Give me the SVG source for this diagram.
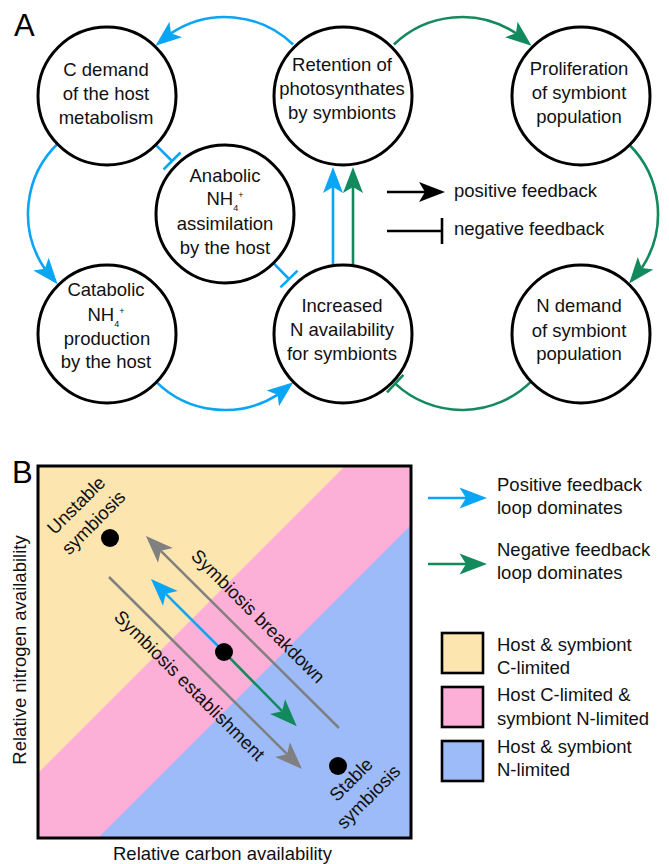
<svg xmlns="http://www.w3.org/2000/svg" width="669" height="864" viewBox="0 0 669 864">
<style>
text{font-family:"Liberation Sans",Arial,Helvetica,sans-serif;font-size:18.5px;fill:#111}
.node circle{fill:#fff;stroke:#000;stroke-width:3}
.node text{text-anchor:middle}
.panel{font-size:31px;fill:#000}
.sm{font-size:9px}
.blue{stroke:#0aa5f5}
.green{stroke:#128a5e}
.gray{stroke:#808080}
.blk{stroke:#000}
</style>
<defs>
<marker id="ahBlue" viewBox="-10 -12 34 24" markerWidth="34" markerHeight="24" refX="0" refY="0" orient="auto" markerUnits="userSpaceOnUse" overflow="visible"><path d="M20,0 L-6,-10 L0,0 L-6,10 Z" fill="#0aa5f5"/></marker>
<marker id="ahGreen" viewBox="-10 -12 34 24" markerWidth="34" markerHeight="24" refX="0" refY="0" orient="auto" markerUnits="userSpaceOnUse" overflow="visible"><path d="M20,0 L-6,-10 L0,0 L-6,10 Z" fill="#128a5e"/></marker>
<marker id="ahBlack" viewBox="-10 -12 34 24" markerWidth="34" markerHeight="24" refX="0" refY="0" orient="auto" markerUnits="userSpaceOnUse" overflow="visible"><path d="M20,0 L-6,-10 L0,0 L-6,10 Z" fill="#000"/></marker>
<marker id="bBlue" viewBox="-10 -12 34 24" markerWidth="34" markerHeight="24" refX="0" refY="0" orient="auto" markerUnits="userSpaceOnUse" overflow="visible"><path d="M21,0 L-6.5,-10.5 L0,0 L-6.5,10.5 Z" fill="#0aa5f5"/></marker>
<marker id="bGreen" viewBox="-10 -12 34 24" markerWidth="34" markerHeight="24" refX="0" refY="0" orient="auto" markerUnits="userSpaceOnUse" overflow="visible"><path d="M21,0 L-6.5,-10.5 L0,0 L-6.5,10.5 Z" fill="#128a5e"/></marker>
<marker id="bGray" viewBox="-10 -12 34 24" markerWidth="34" markerHeight="24" refX="0" refY="0" orient="auto" markerUnits="userSpaceOnUse" overflow="visible"><path d="M21,0 L-6.5,-10.5 L0,0 L-6.5,10.5 Z" fill="#808080"/></marker>
</defs>
<rect width="669" height="864" fill="#fff"/>

<text class="panel" x="14" y="36">A</text>

<g id="connectors" fill="none" stroke-width="2.6">
<path class="blue" d="M293.1,44.5 A98,98 0 0 0 171.2,33.1 l-0.155,0.126" marker-end="url(#ahBlue)"/>
<path class="blue" d="M58.4,143 A98,98 0 0 0 44.7,268.7 l0.127,0.153" marker-end="url(#ahBlue)"/>
<path class="blue" d="M155.7,381.3 A98,98 0 0 0 277.4,394.8 l0.157,-0.123" marker-end="url(#ahBlue)"/>
<path class="blue" d="M333,266 L333,187" marker-end="url(#ahBlue)"/>
<path class="blue" d="M155.8,144.8 L172,161 M163.5,169.5 L180.5,152.5"/>
<path class="blue" d="M273.4,263.2 L289,279 M280.4,287.4 L297.6,270.6"/>
<path class="green" d="M393.9,44.5 A98,98 0 0 1 515.8,33.1 l0.155,0.126" marker-end="url(#ahGreen)"/>
<path class="green" d="M628.8,144.2 A98,98 0 0 1 641.9,267.8 l-0.126,0.155" marker-end="url(#ahGreen)"/>
<path class="green" d="M531.3,381.3 A98,98 0 0 1 395.2,383.6 M387,392.4 L403.4,374.8"/>
<path class="green" d="M353,266 L353,187" marker-end="url(#ahGreen)"/>
<path class="blk" d="M387,192 L425,192" marker-end="url(#ahBlack)"/>
<path class="blk" d="M387,231 L442,231 M442,218 L442,244"/>
</g>

<g id="n-cdemand" class="node"><circle cx="107" cy="96" r="69"/>
<text x="106" y="76">C demand</text><text x="106" y="100">of the host</text><text x="106" y="124">metabolism</text></g>
<g id="n-retention" class="node"><circle cx="343" cy="96" r="69"/>
<text x="342" y="71">Retention of</text><text x="342" y="95">photosynthates</text><text x="342" y="119">by symbionts</text></g>
<g id="n-prolif" class="node"><circle cx="581" cy="96" r="69"/>
<text x="579" y="75">Proliferation</text><text x="579" y="99">of symbiont</text><text x="579" y="123">population</text></g>
<g id="n-anabolic" class="node"><circle cx="225" cy="214" r="69"/>
<text x="225" y="182">Anabolic</text><text x="225" y="205">NH<tspan class="sm" dy="6">4</tspan><tspan class="sm" dy="-13">+</tspan></text><text x="225" y="230">assimilation</text><text x="225" y="254">by the host</text></g>
<g id="n-catabolic" class="node"><circle cx="107" cy="334" r="69"/>
<text x="106" y="296">Catabolic</text><text x="106" y="321">NH<tspan class="sm" dy="6">4</tspan><tspan class="sm" dy="-13">+</tspan></text><text x="107" y="345">production</text><text x="106" y="368">by the host</text></g>
<g id="n-increased" class="node"><circle cx="343" cy="334" r="69"/>
<text x="342" y="312">Increased</text><text x="342" y="336">N availability</text><text x="342" y="360">for symbionts</text></g>
<g id="n-ndemand" class="node"><circle cx="581" cy="334" r="69"/>
<text x="579" y="312">N demand</text><text x="579" y="337">of symbiont</text><text x="579" y="360">population</text></g>

<g id="legendA">
<text x="454" y="197">positive feedback</text>
<text x="454" y="235">negative feedback</text>
</g>

<text class="panel" x="12" y="483">B</text>

<g id="plot">
<rect x="38" y="466" width="373" height="372" fill="#fcb0d7"/>
<polygon points="38,466 345,466 38,773" fill="#fde5b0"/>
<polygon points="411,525 411,838 98,838" fill="#9cbbf8"/>
<rect x="38" y="466" width="373" height="372" fill="none" stroke="#000" stroke-width="3"/>
</g>

<g id="connectorsB" fill="none" stroke-width="2.5">
<path class="gray" d="M109,577 L287.1,754.2" marker-end="url(#bGray)"/>
<path class="gray" d="M339,728 L160.8,550.8" marker-end="url(#bGray)"/>
<path class="blue" d="M224,652 L165.8,593.8" marker-end="url(#bBlue)"/>
<path class="green" d="M224,652 L282.1,711.2" marker-end="url(#bGreen)"/>
</g>

<g id="n-unstable"><circle cx="110" cy="538" r="9" fill="#000"/>
<text transform="translate(80.6,509.7) rotate(-45)" text-anchor="middle"><tspan x="0" y="0">Unstable</tspan><tspan x="0" y="24.5">symbiosis</tspan></text></g>
<g id="n-middle"><circle cx="224" cy="652" r="9" fill="#000"/></g>
<g id="n-stable"><circle cx="338" cy="766" r="9" fill="#000"/>
<text transform="translate(355.6,783.9) rotate(-45)" text-anchor="middle"><tspan x="0" y="0">Stable</tspan><tspan x="0" y="24.5">symbiosis</tspan></text></g>
<text transform="translate(253.6,620.6) rotate(45)" text-anchor="middle">Symbiosis breakdown</text>
<text transform="translate(185.1,689.9) rotate(45)" text-anchor="middle">Symbiosis establishment</text>

<text x="222.5" y="860" text-anchor="middle">Relative carbon availability</text>
<text transform="translate(26,650) rotate(-90)" text-anchor="middle">Relative nitrogen availability</text>

<g id="legendB">
<path class="blue" d="M428,498 L466,498" fill="none" stroke-width="2.5" marker-end="url(#bBlue)"/>
<path class="green" d="M428,564 L466,564" fill="none" stroke-width="2.5" marker-end="url(#bGreen)"/>
<text x="497" y="490.5">Positive feedback</text><text x="497" y="513.5">loop dominates</text>
<text x="497" y="556">Negative feedback</text><text x="497" y="579">loop dominates</text>
<rect x="442" y="633" width="41" height="40" fill="#fde5b0" stroke="#000" stroke-width="2.6"/>
<rect x="442" y="687" width="41" height="40" fill="#fcb0d7" stroke="#000" stroke-width="2.6"/>
<rect x="442" y="741" width="41" height="40" fill="#9cbbf8" stroke="#000" stroke-width="2.6"/>
<text x="497" y="651">Host &amp; symbiont</text><text x="497" y="673.5">C-limited</text>
<text x="497" y="701">Host C-limited &amp;</text><text x="497" y="725">symbiont N-limited</text>
<text x="497" y="753">Host &amp; symbiont</text><text x="497" y="776">N-limited</text>
</g>
</svg>
